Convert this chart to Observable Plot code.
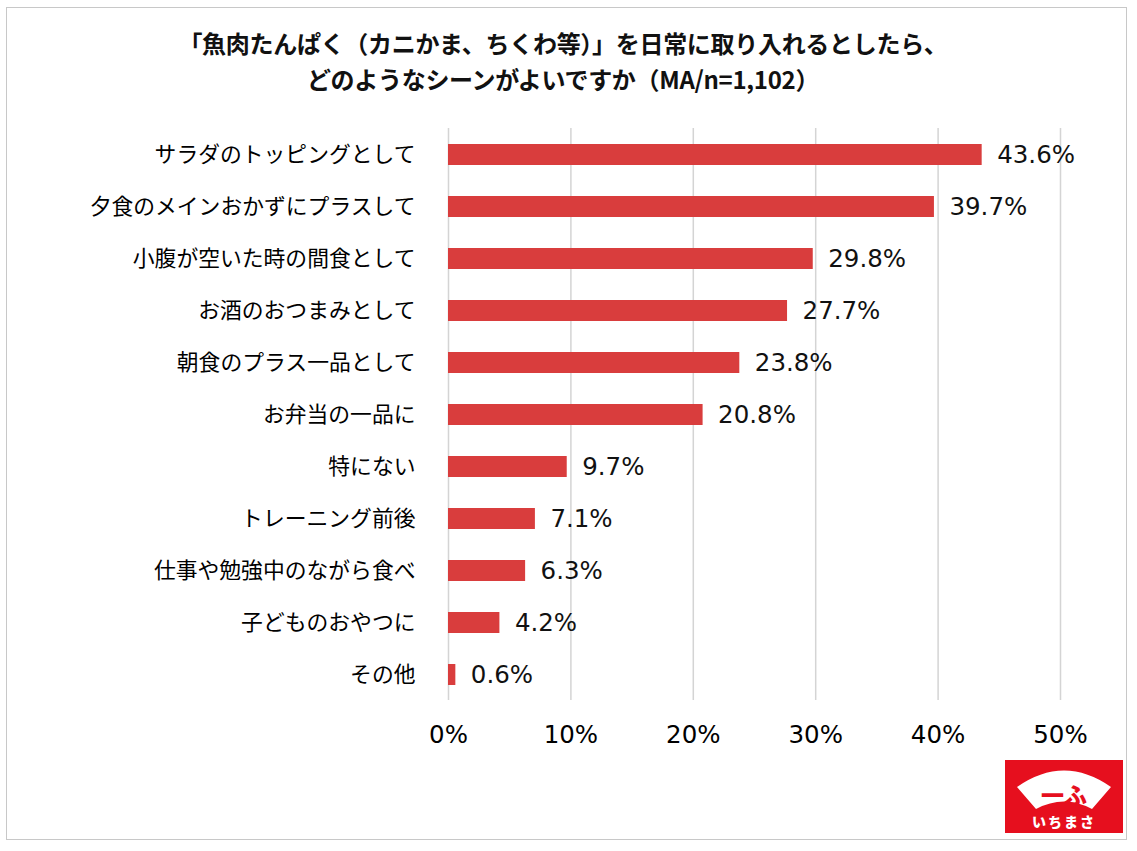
<!DOCTYPE html>
<html><head><meta charset="utf-8">
<script src="https://cdn.jsdelivr.net/npm/d3@7"></script>
<script src="https://cdn.jsdelivr.net/npm/@observablehq/plot@0.6"></script>
<style>
html,body{margin:0;padding:0;background:#fff;}
#wrap{position:relative;width:1137px;height:851px;overflow:hidden;}
#frame{position:absolute;left:6px;top:7px;width:1121px;height:833px;border:1.5px solid #c8c8c8;box-sizing:border-box;pointer-events:none;}
#title{position:absolute;left:0;top:25px;width:1126px;text-align:center;font-family:"Noto Sans CJK JP";font-weight:700;font-size:24px;line-height:36px;color:#111;letter-spacing:-0.3px;}
#chart{position:absolute;left:0;top:0;}
#logo{position:absolute;left:1005px;top:760px;}
</style></head>
<body>
<div id="wrap">
<div id="chart"></div>
<div id="title">「魚肉たんぱく（カニかま、ちくわ等）」を日常に取り入れるとしたら、<br>どのようなシーンがよいですか（MA/n=1,102）</div>
<svg id="logo" width="118" height="73" viewBox="0 0 118 73">
<rect width="118" height="73" fill="#e60f1e"/>
<path d="M12,27 Q59,-6 106,27 L87,49 Q59,34 31,49 Z" fill="#fff"/>
<text x="59" y="44" text-anchor="middle" font-family="Noto Sans CJK JP" font-weight="900" font-size="23" fill="#e60f1e">一ふ</text>
<text x="59" y="67" text-anchor="middle" font-family="Noto Sans CJK JP" font-weight="900" font-size="14" letter-spacing="2" fill="#fff">いちまさ</text>
</svg>
<div id="frame"></div>
</div>
<script>
const categories = ["サラダのトッピングとして","夕食のメインおかずにプラスして","小腹が空いた時の間食として","お酒のおつまみとして","朝食のプラス一品として","お弁当の一品に","特にない","トレーニング前後","仕事や勉強中のながら食べ","子どものおやつに","その他"];
const values = [43.6,39.7,29.8,27.7,23.8,20.8,9.7,7.1,6.3,4.2,0.6];
const ticks = [0,10,20,30,40,50];
const data = categories.map((c,i)=>({category:c,value:values[i]}));

const chart = Plot.plot({
  width:1137, height:851,
  marginTop:128, marginBottom:151, marginLeft:448, marginRight:77,
  style:{background:"transparent",color:"#000"},
  x:{domain:[0,50], ticks:ticks, tickFormat:d=>d+"%", label:null},
  y:{domain:categories, paddingInner:0.6, paddingOuter:0.3, label:null},
  marks:[
    Plot.ruleX(ticks,{stroke:"#d4d4d4",strokeWidth:1.5}),
    Plot.barX(data,{y:"category",x:"value",fill:"#d93d3d"}),
    Plot.text(data,{y:"category",x:"value",text:d=>d.value.toFixed(1)+"%",textAnchor:"start",dx:15,fontSize:24.5,fontFamily:"DejaVu Sans",fill:"#111"}),
    Plot.axisX({ticks:ticks,tickFormat:d=>d+"%",tickSize:0,tickPadding:25,fontSize:24.5,fontFamily:"DejaVu Sans",label:null}),
    Plot.axisY({tickSize:0,tickPadding:33,fontSize:21.8,fontFamily:"Noto Sans CJK JP",label:null})
  ]
});
document.getElementById("chart").appendChild(chart);
</script>
</body></html>
